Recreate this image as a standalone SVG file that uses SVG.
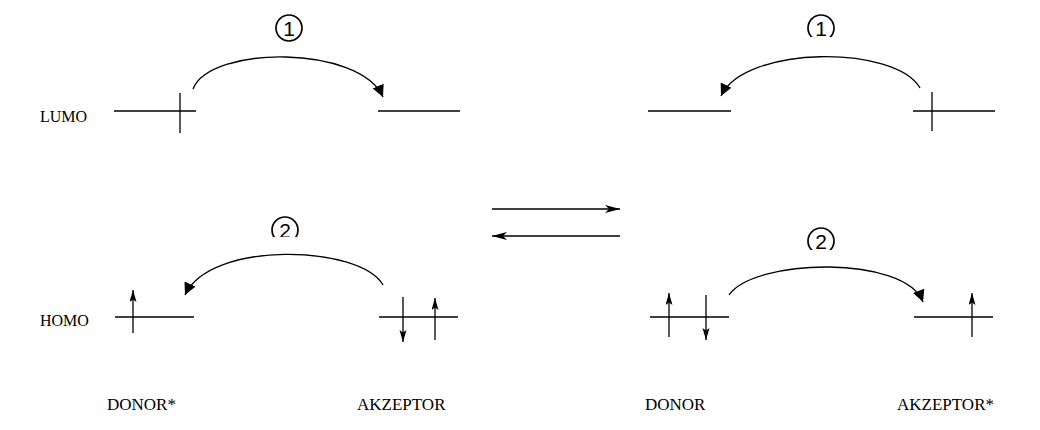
<svg xmlns="http://www.w3.org/2000/svg" width="1040" height="430" viewBox="0 0 1040 430">
  <style>
    .lvl { stroke: #000; stroke-width: 1.3; fill: none; }
    .spin { stroke: #000; stroke-width: 1.3; fill: none; }
    .curve { stroke: #000; stroke-width: 1.3; fill: none; marker-end: url(#head); }
    .eq { stroke: #000; stroke-width: 1.3; fill: none; marker-end: url(#barb); }
    .up { marker-end: url(#spinhead); }
    .lbl { font-family: "Liberation Serif", "Times New Roman", serif; font-size: 16px; fill: #000; }
    .cap { font-family: "Liberation Serif", "Times New Roman", serif; font-size: 17px; fill: #000; }
    .num { font-family: "Liberation Sans", Arial, sans-serif; font-size: 21px; fill: #000; text-anchor: middle; }
    .ring { stroke: #000; stroke-width: 1.7; fill: none; }
  </style>
  <defs>
    <marker id="head" markerUnits="userSpaceOnUse" markerWidth="14" markerHeight="14" refX="12" refY="6" orient="auto">
      <path d="M0,0 L12,6 L0,12 Z" fill="#000"/>
    </marker>
    <marker id="spinhead" markerUnits="userSpaceOnUse" markerWidth="13" markerHeight="8" refX="12" refY="3.5" orient="auto">
      <path d="M0,0 L12,3.5 L0,7 L2.5,3.5 Z" fill="#000"/>
    </marker>
    <marker id="barb" markerUnits="userSpaceOnUse" markerWidth="16" markerHeight="9" refX="15" refY="4" orient="auto">
      <path d="M0,0 L15,4 L0,8 L4,4 Z" fill="#000"/>
    </marker>
    <clipPath id="cutR1"><rect x="790" y="0" width="60" height="37"/></clipPath>
    <clipPath id="cutL2"><rect x="250" y="200" width="70" height="37"/></clipPath>
    <clipPath id="cutR2"><rect x="790" y="210" width="60" height="40"/></clipPath>
  </defs>

  <!-- row labels -->
  <text class="lbl" x="40" y="122">LUMO</text>
  <text class="lbl" x="40" y="326">HOMO</text>

  <!-- left pair: excited donor and acceptor -->
  <g id="donor-star-lumo">
    <line class="lvl" x1="114" y1="111" x2="196" y2="111"/>
    <line class="spin" x1="180" y1="93" x2="180" y2="133"/>
  </g>
  <g id="acceptor-lumo">
    <line class="lvl" x1="378" y1="111" x2="460" y2="111"/>
  </g>
  <g id="donor-star-homo">
    <line class="lvl" x1="115" y1="317" x2="194" y2="317"/>
    <line class="spin up" x1="133" y1="333" x2="133" y2="290"/>
  </g>
  <g id="acceptor-homo">
    <line class="lvl" x1="379" y1="317" x2="458" y2="317"/>
    <line class="spin up" x1="403" y1="297" x2="403" y2="342"/>
    <line class="spin up" x1="435" y1="340" x2="435" y2="298"/>
  </g>

  <!-- right pair: donor and excited acceptor -->
  <g id="donor-lumo">
    <line class="lvl" x1="648" y1="111" x2="731" y2="111"/>
  </g>
  <g id="acceptor-star-lumo">
    <line class="lvl" x1="913" y1="111" x2="995" y2="111"/>
    <line class="spin" x1="932" y1="92" x2="932" y2="131"/>
  </g>
  <g id="donor-homo">
    <line class="lvl" x1="650" y1="317" x2="729" y2="317"/>
    <line class="spin up" x1="669" y1="337" x2="669" y2="293"/>
    <line class="spin up" x1="706" y1="295" x2="706" y2="340"/>
  </g>
  <g id="acceptor-star-homo">
    <line class="lvl" x1="914" y1="317" x2="993" y2="317"/>
    <line class="spin up" x1="972" y1="337" x2="972" y2="293"/>
  </g>

  <!-- step numbers -->
  <g id="step1-left">
    <circle class="ring" cx="289" cy="28" r="13"/>
    <text class="num" x="289" y="36">1</text>
  </g>
  <g id="step1-right" clip-path="url(#cutR1)">
    <circle class="ring" cx="821" cy="28" r="13"/>
    <text class="num" x="821" y="36">1</text>
  </g>
  <g id="step2-left" clip-path="url(#cutL2)">
    <circle class="ring" cx="285" cy="230" r="13"/>
    <text class="num" x="285" y="238">2</text>
  </g>
  <g id="step2-right" clip-path="url(#cutR2)">
    <circle class="ring" cx="821" cy="241" r="13"/>
    <text class="num" x="821" y="249">2</text>
  </g>

  <!-- connectors -->
  <g id="connectors">
    <path class="curve" d="M193,89 C210,45 360,45 383,97"/>
    <path class="curve" d="M920,88 C895,45 745,45 721,96"/>
    <path class="curve" d="M383,285 C360,245 210,240 185,295"/>
    <path class="curve" d="M729,295 C755,258 905,255 923,302"/>
    <line class="eq" x1="492" y1="209" x2="620" y2="209"/>
    <line class="eq" x1="620" y1="236" x2="492" y2="236"/>
  </g>

  <!-- column captions -->
  <text class="cap" x="107" y="410">DONOR*</text>
  <text class="cap" x="357" y="410">AKZEPTOR</text>
  <text class="cap" x="645" y="410">DONOR</text>
  <text class="cap" x="897" y="410">AKZEPTOR*</text>
</svg>
